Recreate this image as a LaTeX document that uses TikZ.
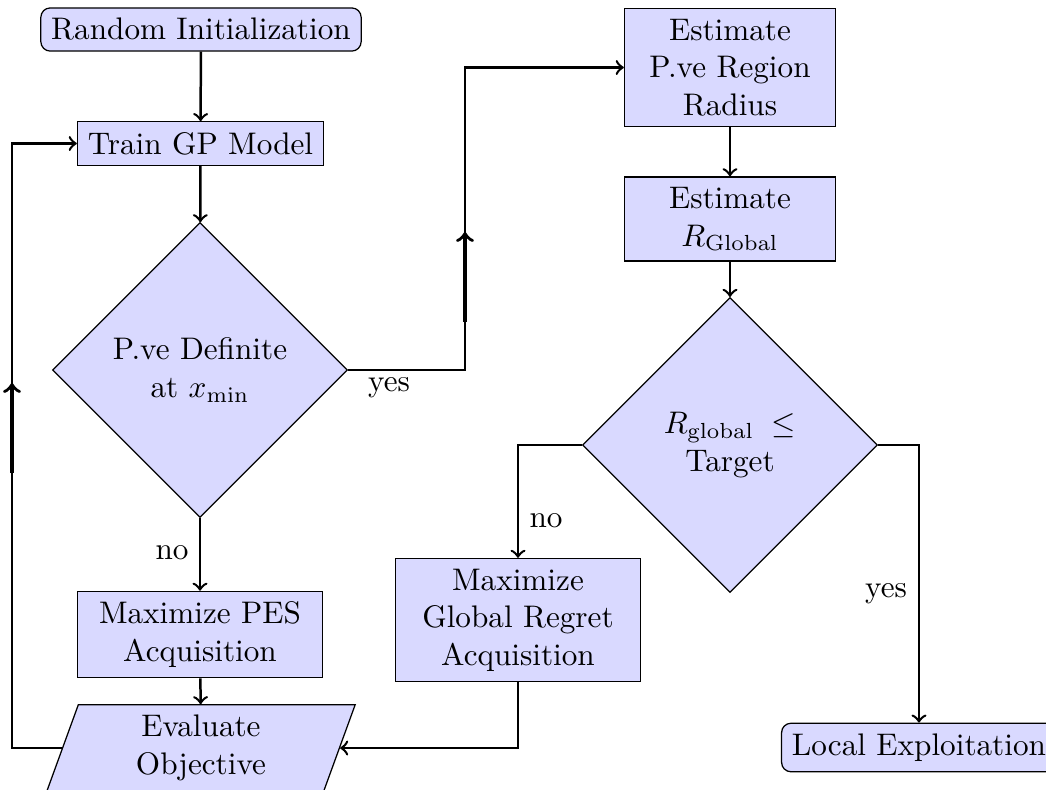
\documentclass[tikz,border=0pt]{standalone}
\usetikzlibrary{shapes.geometric}
\begin{document}
\begin{tikzpicture}[x=0.3205pt, y=-0.3205pt,
  base/.style={draw=black, fill=blue!15, line width=0.4pt},
  startbox/.style={base, rectangle, rounded corners=3pt},
  procbox/.style={base, rectangle},
  widebox/.style={procbox, text width=72pt, align=center},
  narrowbox/.style={procbox, text width=61pt, align=center},
  decbox/.style={base, diamond, aspect=1, text width=60pt, align=center, minimum width=94.5pt, minimum height=94.5pt},
  iobox/.style={base, trapezium, trapezium left angle=70, trapezium right angle=110, text width=72pt, align=center},
  arr/.style={->, thick},
  midarr/.style={->, line width=1.1pt}]
\useasboundingbox (0,0) rectangle (1046,789);

% nodes
\node[startbox] (init) at (201,29.5) {Random Initialization};
\node[procbox] (train) at (200.5,143.5) {Train GP Model};
\node[decbox] (dec1) at (200,370) {P.ve Definite\\at $x_{\min}$};
\node[widebox] (pes) at (200,634.5) {Maximize PES Acquisition};
\node[iobox] (eval) at (201,748) {Evaluate\\Objective};
\node[narrowbox] (est1) at (730,67.5) {Estimate P.ve Region Radius};
\node[narrowbox] (est2) at (730,219) {Estimate\\$R_{\mathrm{Global}}$};
\node[decbox] (dec2) at (730,445) {$R_{\mathrm{global}}\,\leq$\\Target};
\node[widebox] (greg) at (518,620) {Maximize Global Regret Acquisition};
\node[startbox] (local) at (919,747.5) {Local Exploitation};

% labels
\node (yes1) at (389,388) {yes};
\node (no1) at (172,553) {no};
\node (no2) at (546,521) {no};
\node (yes2) at (886,594) {yes};

% helper coordinates
\coordinate (lt) at (12,143.5);
\coordinate (m1a) at (12,473);
\coordinate (m1b) at (12,383);
\coordinate (yc) at (465,67.5);
\coordinate (m2a) at (465,322);
\coordinate (m2b) at (465,232);

% connectors
\draw[arr] (init) -- (train);
\draw[arr] (train) -- (dec1);
\draw[arr] (dec1) -- (pes);
\draw[arr] (pes) -- (eval);
\draw[arr] (eval) -| (lt) -- (train);
\draw[midarr] (m1a) -- (m1b);
\draw[arr] (dec1.east) -| (yc) -- (est1);
\draw[midarr] (m2a) -- (m2b);
\draw[arr] (est1) -- (est2);
\draw[arr] (est2) -- (dec2);
\draw[arr] (dec2.west) -| (greg);
\draw[arr] (dec2.east) -| (local);
\draw[arr] (greg) |- (eval);
\end{tikzpicture}
\end{document}
